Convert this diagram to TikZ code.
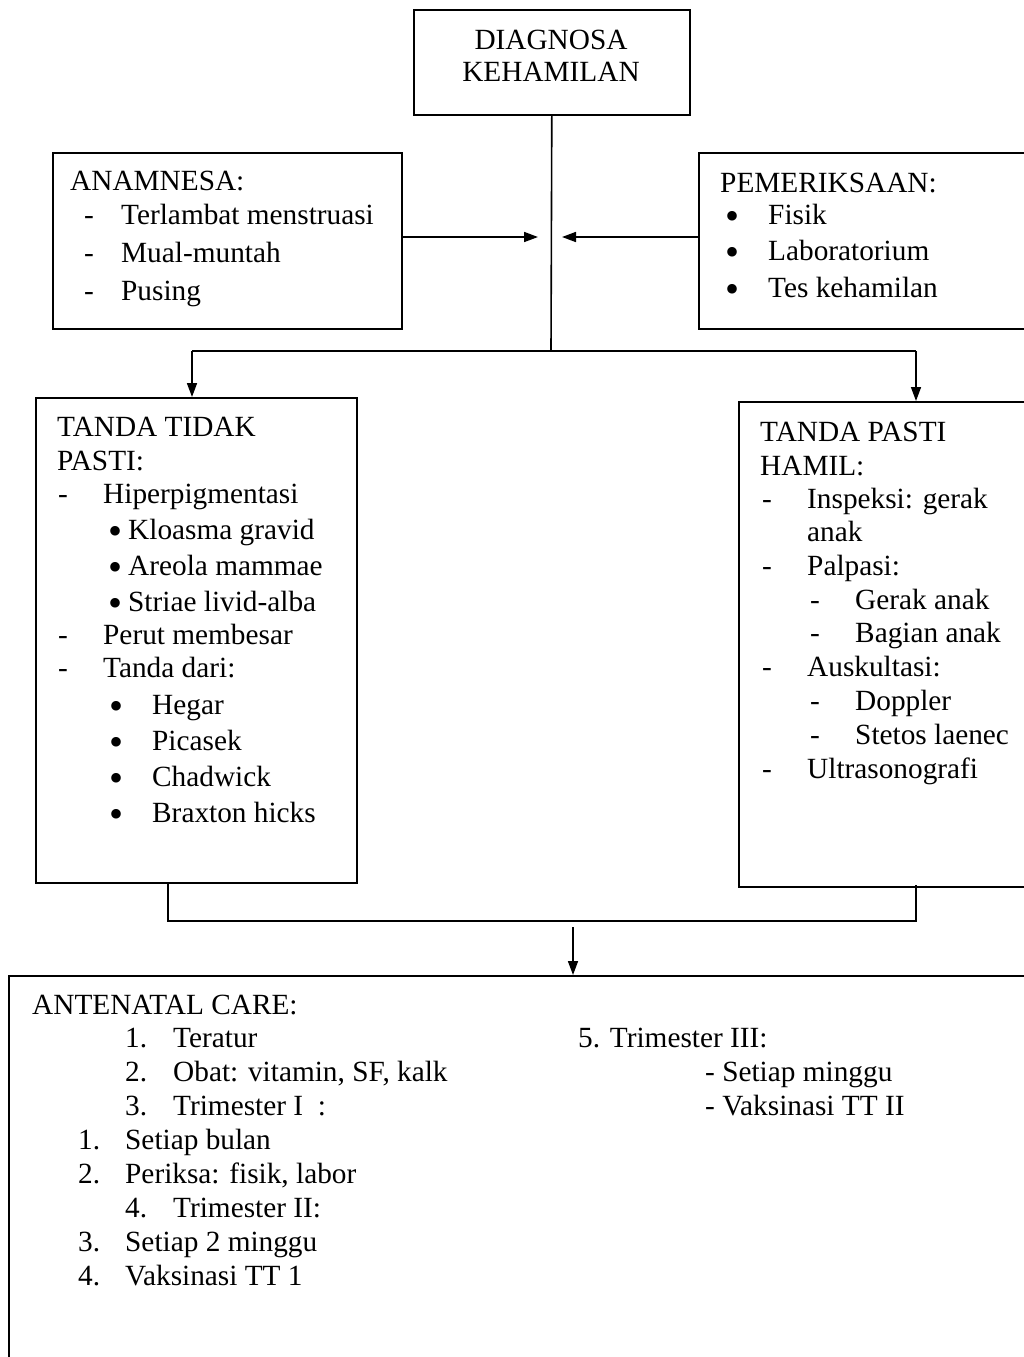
\documentclass[tikz,border=0pt]{standalone}
\usepackage{fontspec}
\setmainfont{Liberation Serif}
\usetikzlibrary{arrows.meta}
\tikzset{
  box/.style={draw, line width=1.6pt, anchor=north west, inner sep=0pt},
  conn/.style={line width=1.6pt},
  arr/.style={line width=1.6pt, -{Triangle[length=14pt,width=10pt]}},
  txt/.style={anchor=base west, inner sep=0pt, font=\fontsize{29.3}{34}\selectfont},
  bul/.style={anchor=base west, inner sep=0pt, yshift=-5pt, text height=14pt, text depth=0pt, font=\fontsize{40}{40}\selectfont},
  ctxt/.style={anchor=base, inner sep=0pt, font=\fontsize{29.3}{34}\selectfont}
}
\begin{document}
\begin{tikzpicture}[x=1pt,y=-1pt]
\useasboundingbox (0,0) rectangle (1024,1357);
\clip (0,0) rectangle (1024,1357);
\fill[white] (0,0) rectangle (1024,1357);
% boxes
\node[box, minimum width=276pt, minimum height=105pt] (diag) at (413,9) {};
\node[box, minimum width=349pt, minimum height=176pt] (anam) at (52,152) {};
\node[box, minimum width=340pt, minimum height=176pt] (peme) at (698,152) {};
\node[box, minimum width=321pt, minimum height=485pt] (tidak) at (35,397) {};
\node[box, minimum width=300pt, minimum height=485pt] (pasti) at (738,401) {};
\node[box, minimum width=1030pt, minimum height=400pt] (anc) at (8,975) {};
% top box text
\node[ctxt] (d1) at (551,49) {DIAGNOSA};
\node[ctxt] (d2) at (551,81) {KEHAMILAN};
% connectors
\coordinate (junc) at (551,351);
\coordinate (midL) at (538,237);
\coordinate (midR) at (562,237);
\coordinate (bl) at (192,351);
\coordinate (br) at (916,351);
\coordinate (cl) at (168,921);
\coordinate (cr) at (916,921);
\coordinate (at) at (573,927);
\draw[conn] (diag.south) -- (junc);
\draw[arr] (midL -| anam.east) -- (midL);
\draw[arr] (midR -| peme.west) -- (midR);
\draw[conn] (bl) -- (br);
\draw[arr] (bl) -- (bl |- tidak.north);
\draw[arr] (br) -- (br |- pasti.north);
\draw[conn] (cl |- tidak.south) -- (cl) -- (cr) -- ([yshift=3pt]cr |- pasti.south);
\draw[arr] (at) -- (at |- anc.north);
% ANAMNESA
\node[txt] (a0) at (70,190) {ANAMNESA:};
\node[txt] (a1d) at (84,224) {-};
\node[txt] (a1) at (121,224) {Terlambat menstruasi};
\node[txt] (a2d) at (84,262) {-};
\node[txt] (a2) at (121,262) {Mual-muntah};
\node[txt] (a3d) at (84,300) {-};
\node[txt] (a3) at (121,300) {Pusing};
% PEMERIKSAAN
\node[txt] (p0) at (720,192) {PEMERIKSAAN:};
\node[bul] (p1b) at (725,224) {•};
\node[txt] (p1) at (768,224) {Fisik};
\node[bul] (p2b) at (725,260) {•};
\node[txt] (p2) at (768,260) {Laboratorium};
\node[bul] (p3b) at (725,297) {•};
\node[txt] (p3) at (768,297) {Tes kehamilan};
% TANDA TIDAK PASTI
\node[txt] (t0) at (57,436) {TANDA TIDAK};
\node[txt] (t0b) at (57,470) {PASTI:};
\node[txt] (t1d) at (58,503) {-};
\node[txt] (t1) at (103,503) {Hiperpigmentasi};
\node[bul] (t2b) at (108,539) {•};
\node[txt] (t2) at (128,539) {Kloasma gravid};
\node[bul] (t3b) at (108,575) {•};
\node[txt] (t3) at (128,575) {Areola mammae};
\node[bul] (t4b) at (108,611) {•};
\node[txt] (t4) at (128,611) {Striae livid-alba};
\node[txt] (t5d) at (58,644) {-};
\node[txt] (t5) at (103,644) {Perut membesar};
\node[txt] (t6d) at (58,677) {-};
\node[txt] (t6) at (103,677) {Tanda dari:};
\node[bul] (t7b) at (109,714) {•};
\node[txt] (t7) at (152,714) {Hegar};
\node[bul] (t8b) at (109,750) {•};
\node[txt] (t8) at (152,750) {Picasek};
\node[bul] (t9b) at (109,786) {•};
\node[txt] (t9) at (152,786) {Chadwick};
\node[bul] (t10b) at (109,822) {•};
\node[txt] (t10) at (152,822) {Braxton hicks};
% TANDA PASTI HAMIL
\node[txt] (h0) at (760,441) {TANDA PASTI};
\node[txt] (h0b) at (760,475) {HAMIL:};
\node[txt] (h1d) at (762,508) {-};
\node[txt] (h1) at (807,508) {Inspeksi: gerak};
\node[txt] (h1b) at (807,541) {anak};
\node[txt] (h2d) at (762,575) {-};
\node[txt] (h2) at (807,575) {Palpasi:};
\node[txt] (h3d) at (810,609) {-};
\node[txt] (h3) at (855,609) {Gerak anak};
\node[txt] (h4d) at (810,642) {-};
\node[txt] (h4) at (855,642) {Bagian anak};
\node[txt] (h5d) at (762,676) {-};
\node[txt] (h5) at (807,676) {Auskultasi:};
\node[txt] (h6d) at (810,710) {-};
\node[txt] (h6) at (855,710) {Doppler};
\node[txt] (h7d) at (810,744) {-};
\node[txt] (h7) at (855,744) {Stetos laenec};
\node[txt] (h8d) at (762,778) {-};
\node[txt] (h8) at (807,778) {Ultrasonografi};
% ANTENATAL CARE
\node[txt] (c0) at (32,1014) {ANTENATAL CARE:};
\node[txt] (c1n) at (125,1047) {1.};
\node[txt] (c1) at (173,1047) {Teratur};
\node[txt] (c2n) at (125,1081) {2.};
\node[txt] (c2) at (173,1081) {Obat: vitamin, SF, kalk};
\node[txt] (c3n) at (125,1115) {3.};
\node[txt] (c3) at (173,1115) {Trimester I\ \ :};
\node[txt] (c4n) at (78,1149) {1.};
\node[txt] (c4) at (125,1149) {Setiap bulan};
\node[txt] (c5n) at (78,1183) {2.};
\node[txt] (c5) at (125,1183) {Periksa: fisik, labor};
\node[txt] (c6n) at (125,1217) {4.};
\node[txt] (c6) at (173,1217) {Trimester II:};
\node[txt] (c7n) at (78,1251) {3.};
\node[txt] (c7) at (125,1251) {Setiap 2 minggu};
\node[txt] (c8n) at (78,1285) {4.};
\node[txt] (c8) at (125,1285) {Vaksinasi TT 1};
\node[txt] (r0) at (578,1047) {5. Trimester III:};
\node[txt] (r1) at (705,1081) {- Setiap minggu};
\node[txt] (r2) at (705,1115) {- Vaksinasi TT II};
\end{tikzpicture}
\end{document}
